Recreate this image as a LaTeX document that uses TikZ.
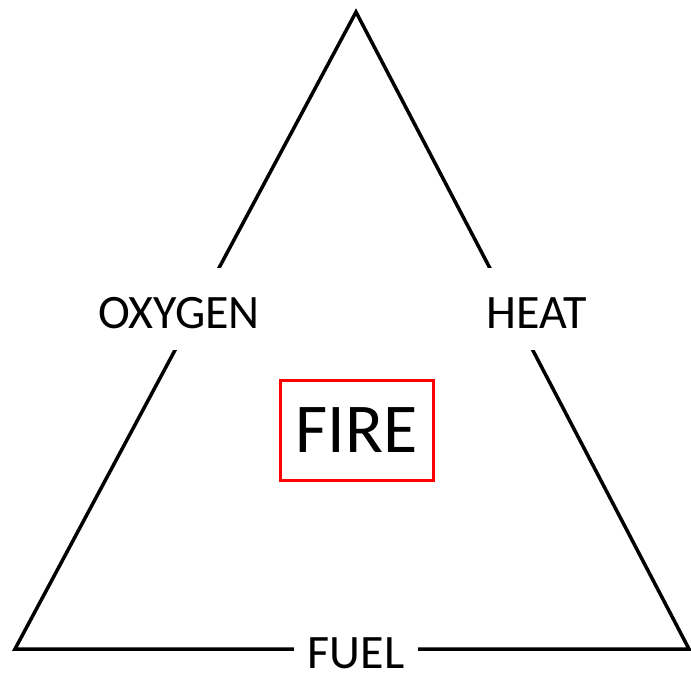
\documentclass[tikz,border=0pt]{standalone}
\usepackage{fontspec}
\setmainfont{Carlito}
\begin{document}
\begin{tikzpicture}[x=1pt,y=-1pt,
  side/.style={line width=3.5pt},
  sidelabel/.style={fill=white,inner xsep=0pt,inner ysep=0pt,text height=60pt,text depth=22pt,anchor=base,font=\fontsize{48}{48}\selectfont},
  firebox/.style={draw=red,line width=3pt,minimum width=153pt,minimum height=100pt,inner sep=0pt,text height=45pt,text depth=0pt,font=\fontsize{70}{70}\selectfont}]
\useasboundingbox (0,0) rectangle (691,675);
\coordinate (apex) at (356,12);
\coordinate (bl) at (15,649);
\coordinate (br) at (689,649);
\draw[side] (apex) -- (bl) -- (br) -- cycle;
\node[sidelabel] (oxy) at (179,328) {OXYGEN};
\node[sidelabel] (heat) at (537,328) {HEAT};
\node[sidelabel,inner xsep=14pt,text height=40pt,text depth=3pt] (fuel) at (356,668) {FUEL};
\node[firebox] (fire) at (356.5,430) {FIRE};
\end{tikzpicture}
\end{document}
